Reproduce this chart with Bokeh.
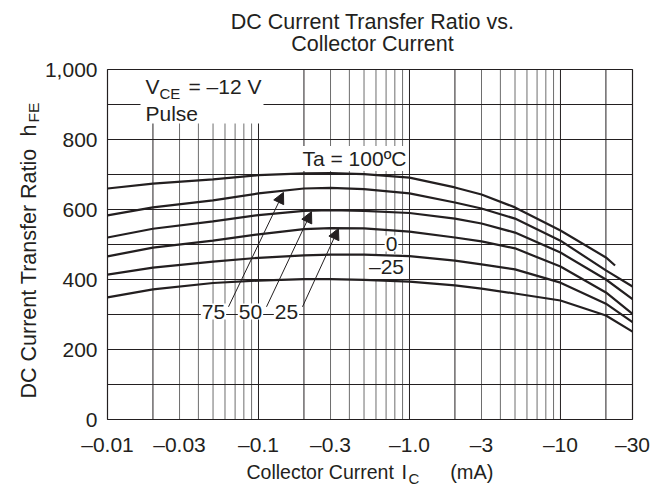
import math
from bokeh.plotting import figure
from bokeh.models import Range1d, FixedTicker, Label, Arrow, NormalHead
from bokeh.embed import file_html
from bokeh.resources import INLINE

# ---------------- data ----------------
ic = [0.01, 0.02, 0.05, 0.1, 0.2, 0.3, 0.5, 1, 2, 3, 5, 10, 20, 30]
ic_100 = [0.01, 0.02, 0.05, 0.1, 0.2, 0.3, 0.5, 1, 2, 3, 5, 10, 20, 23]
hfe_100 = [660, 674, 686, 698, 703, 704, 701, 691, 663, 643, 606, 540, 463, 440]
hfe_75 = [583, 606, 626, 646, 660, 662, 658, 646, 620, 603, 574, 511, 426, 380]
hfe_50 = [520, 545, 566, 584, 596, 598, 596, 590, 574, 560, 534, 477, 400, 344]
hfe_25 = [466, 491, 511, 529, 544, 547, 546, 537, 520, 509, 489, 437, 363, 302]
hfe_0 = [414, 434, 451, 462, 469, 471, 471, 467, 454, 443, 429, 391, 331, 278]
hfe_m25 = [349, 372, 390, 397, 401, 401, 399, 394, 383, 374, 360, 340, 297, 251]

x_min, x_max = 0.01, 30
y_min, y_max = 0, 1000
x_ticks = [0.01, 0.03, 0.1, 0.3, 1, 3, 10, 30]
x_tick_labels = ["\u20130.01", "\u20130.03", "\u20130.1", "\u20130.3", "\u20131.0", "\u20133", "\u201310", "\u201330"]
y_ticks = [0, 200, 400, 600, 800, 1000]
y_tick_labels = ["0", "200", "400", "600", "800", "1,000"]
grid_x_dark = [0.02, 0.1, 0.2, 1, 2, 10, 20]
grid_x_light = [0.03, 0.04, 0.05, 0.06, 0.07, 0.08, 0.09,
                0.3, 0.4, 0.5, 0.6, 0.7, 0.8, 0.9,
                3, 4, 5, 6, 7, 8, 9]
grid_y = [100, 200, 300, 400, 500, 600, 700, 800, 900]

INK = "#231f20"
FONT = "Liberation Sans"
W, H = 651, 486

# plot-box geometry in canvas pixels (used to set the ranges and place texts)
FL, FR, FT, FB = 107, 632, 69, 419
DEC = (FR - FL) / math.log10(x_max / x_min)


def px(xp):
    return x_min * 10 ** ((xp - FL) / DEC)


def py(yp):
    return (FB - yp) * (y_max - y_min) / (FB - FT)


p = figure(width=W, height=H, x_axis_type="log",
           x_range=Range1d(px(0), px(W)), y_range=Range1d(py(H), py(0)),
           output_backend="svg", toolbar_location=None, title=None,
           min_border=0)
p.background_fill_color = "white"
p.border_fill_color = "white"
p.outline_line_color = None
p.xgrid.visible = False
p.ygrid.visible = False

# axes, placed on the plot box edges
p.xaxis.fixed_location = y_min
p.yaxis.fixed_location = x_min
for ax in (p.xaxis[0], p.yaxis[0]):
    ax.axis_line_color = None
    ax.major_tick_line_color = None
    ax.minor_tick_line_color = None
    ax.major_tick_out = 0
    ax.major_tick_in = 0
    ax.minor_tick_out = 0
    ax.minor_tick_in = 0
    ax.major_label_text_font = FONT
    ax.major_label_text_font_size = "21px"
    ax.major_label_text_color = INK
p.xaxis.ticker = FixedTicker(ticks=x_ticks, minor_ticks=[])
p.xaxis.major_label_overrides = {t: l for t, l in zip(x_ticks, x_tick_labels)}
p.xaxis.major_label_standoff = 13
p.yaxis.ticker = FixedTicker(ticks=y_ticks, minor_ticks=[])
p.yaxis.major_label_overrides = {t: l for t, l in zip(y_ticks, y_tick_labels)}
p.yaxis.major_label_standoff = 10

# grid lines
g1 = p.segment(x0=grid_x_light, x1=grid_x_light, y0=y_min, y1=y_max,
               line_color="#6e6e6e", line_width=1)
g2 = p.segment(x0=grid_x_dark, x1=grid_x_dark, y0=y_min, y1=y_max,
               line_color=INK, line_width=1)
g3 = p.segment(x0=x_min, x1=x_max, y0=grid_y, y1=grid_y,
               line_color=INK, line_width=1)
for g in (g1, g2, g3):
    g.level = "underlay"

# white box behind "VCE = -12 V / Pulse"
p.quad(left=px(140), right=px(263), top=y_max, bottom=py(123),
       fill_color="white", line_color=None)

# plot box outline
box = p.quad(left=x_min, right=x_max, top=y_max, bottom=y_min,
             fill_color=None, line_color=INK, line_width=1.2)

# curves
for xs, ys in ((ic_100, hfe_100), (ic, hfe_75), (ic, hfe_50),
               (ic, hfe_25), (ic, hfe_0), (ic, hfe_m25)):
    r = p.line(xs, ys, line_color=INK, line_width=2.2)
    r.level = "overlay"


def lab(text, xp, yp, size="21px", align="left", bg=False, angle=0.0):
    """Text whose cap-centre is at canvas pixel (xp, yp)."""
    L = Label(x=px(xp), y=py(yp), text=text, text_font=FONT,
              text_font_size=size, text_color=INK, text_align=align,
              text_baseline="middle", angle=angle)
    if bg:
        L.background_fill_color = "white"
        L.padding = 1
    p.add_layout(L)


# title
lab("DC Current Transfer Ratio vs.", 372, 21, size="21.5px", align="center")
lab("Collector Current", 372, 43, size="21.5px", align="center")

# x axis label
lab("Collector Current", 246, 471, size="19.5px")
lab("I", 401, 471, size="20px")
lab("C", 408, 478, size="15px")
lab("(mA)", 493, 471, size="20px", align="right")

# y axis label (rotated)
lab("DC Current Transfer Ratio", 28, 398, size="21.5px", angle=math.pi / 2)
lab("h", 28, 136, size="21.5px", angle=math.pi / 2)
lab("FE", 33, 122, size="15.5px", angle=math.pi / 2)

# condition text
lab("V", 145, 86)
lab("CE", 159, 93, size="15px")
lab("= \u201312 V", 261, 86, align="right")
lab("Pulse", 145, 113)

# curve labels
lab("Ta = 100\u00baC", 301, 158, bg=True)
lab("0", 391, 243, align="center", bg=True)
lab("\u201325", 386, 266, align="center", bg=True)
lab("75", 213, 311, align="center", bg=True)
lab("50", 250, 311, align="center", bg=True)
lab("25", 286, 311, align="center", bg=True)

# arrows to the 75, 50, 25 curves
for xs_, ys_, xe_, ye_ in ((0.0633, 322, 0.1464, 649),
                           (0.113, 322, 0.2244, 594),
                           (0.1956, 322, 0.3387, 546)):
    a = Arrow(x_start=xs_, y_start=ys_, x_end=xe_, y_end=ye_,
              line_color=INK, line_width=1,
              end=NormalHead(size=11, fill_color=INK, line_color=INK, line_width=1))
    a.level = "overlay"
    p.add_layout(a)

open("out.html", "w").write(file_html(p, INLINE))
